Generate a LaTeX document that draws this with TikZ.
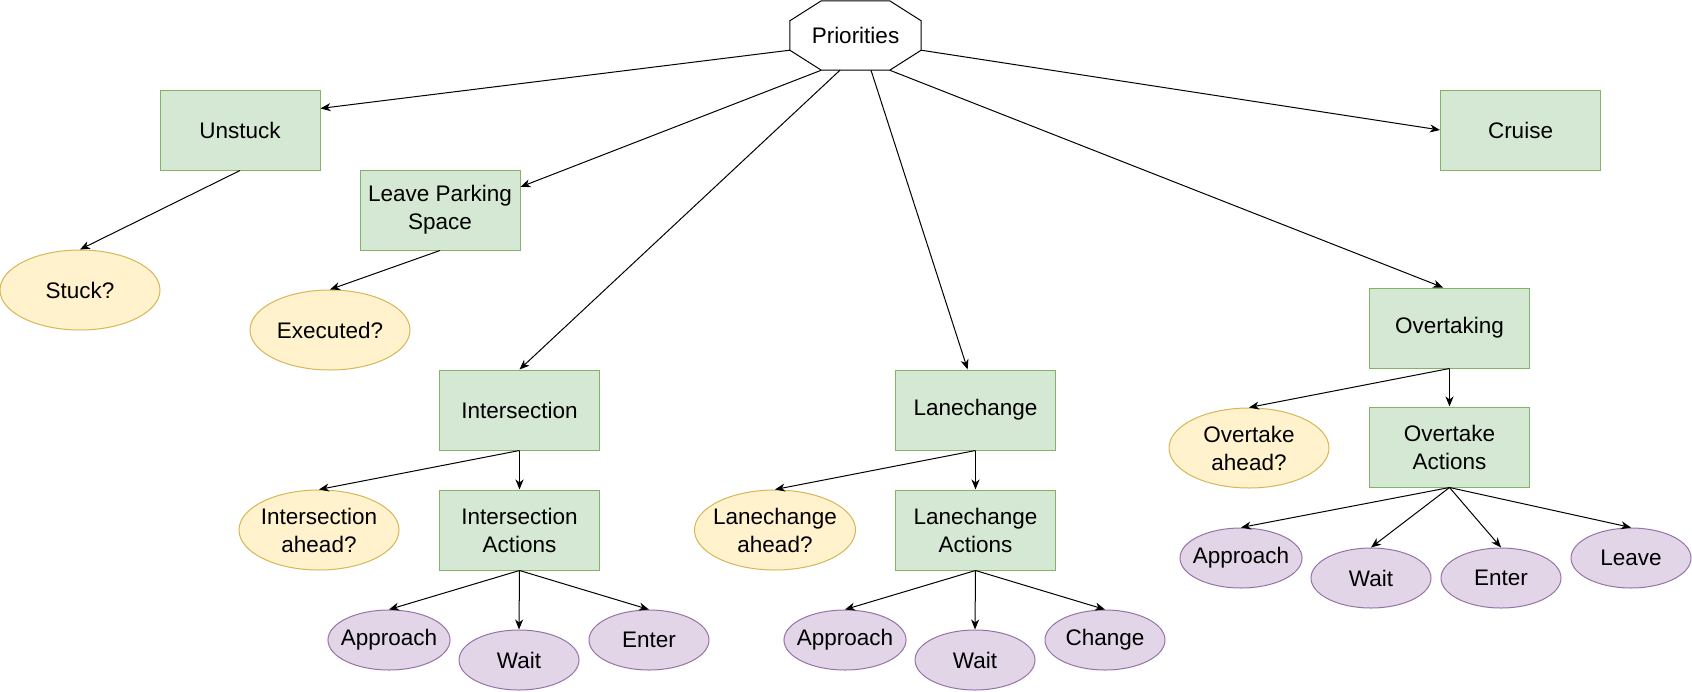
\documentclass[tikz,border=0pt]{standalone}
\usepackage{fontspec}
\setmainfont{Liberation Sans}
\usepackage{tikz}
\usetikzlibrary{shapes,arrows.meta,positioning,calc}
\usepackage{xcolor}
\definecolor{taskgreen}{HTML}{D5E8D4}
\definecolor{taskgreenline}{HTML}{82B366}
\definecolor{checkyellow}{HTML}{FFF2CC}
\definecolor{checkyellowline}{HTML}{D6B656}
\definecolor{actpurple}{HTML}{E1D5E7}
\definecolor{actpurpleline}{HTML}{9673A6}

\tikzset{
  every node/.style={font=\fontsize{22.5}{28}\selectfont,align=center,inner sep=0pt},
  priobox/.style={rectangle,minimum width=131pt,minimum height=69pt},
  taskbox/.style={rectangle,draw=taskgreenline,fill=taskgreen,line width=1pt,minimum width=160pt,minimum height=80pt},
  checkell/.style={ellipse,draw=checkyellowline,fill=checkyellow,line width=1pt,minimum width=160pt,minimum height=80pt,inner xsep=-5pt},
  actell/.style={ellipse,draw=actpurpleline,fill=actpurple,line width=1pt,minimum width=120pt,minimum height=60pt,inner xsep=-5pt},
  link/.style={draw=black,line width=1pt,-{Stealth[length=10pt,width=8pt,inset=3pt]}}
}

\begin{document}
\begin{tikzpicture}[x=1pt,y=-1pt]
        \useasboundingbox (0,0) rectangle (1692,691);

        % Root
        \node[priobox] (prio) at (855.5,35.5) {Priorities};
        \draw[line width=1pt] ($(prio.north west)+(31.5,0)$) -- ($(prio.north east)+(-31.5,0)$)
            -- ($(prio.north east)+(0,20)$) -- ($(prio.south east)+(0,-20)$)
            -- ($(prio.south east)+(-31.5,0)$) -- ($(prio.south west)+(31.5,0)$)
            -- ($(prio.south west)+(0,-20)$) -- ($(prio.north west)+(0,20)$) -- cycle;

        % Behaviours
        \node[taskbox] (unstuck) at (240,130) {Unstuck};
        \node[taskbox] (leave) at (440,210) {Leave Parking\\Space};
        \node[taskbox] (cruise) at (1520.5,130) {Cruise};
        \node[taskbox] (inters) at (519.5,410) {Intersection};
        \node[taskbox] (lanec) at (975.5,410) {Lanechange};
        \node[taskbox] (overt) at (1449.5,328) {Overtaking};

        % Conditions
        \node[checkell] (stuck) at (80,290) {Stuck?};
        \node[checkell] (executed) at (330,330) {Executed?};
        \node[checkell] (intahd) at (319,530) {Intersection\\ahead?};
        \node[checkell] (lanahd) at (775,530) {Lanechange\\ahead?};
        \node[checkell] (ovtahd) at (1249,448) {Overtake\\ahead?};

        % Action groups
        \node[taskbox] (intact) at (519.5,530) {Intersection\\Actions};
        \node[taskbox] (lanact) at (975.5,530) {Lanechange\\Actions};
        \node[taskbox] (ovtact) at (1449.5,447) {Overtake\\Actions};

        % Actions
        \node[actell] (intappr) at (389,640) {Approach};
        \node[actell] (intwait) at (519,660) {Wait};
        \node[actell] (intenter) at (649,640) {Enter};
        \node[actell] (lanappr) at (845,640) {Approach};
        \node[actell] (lanwait) at (975,660) {Wait};
        \node[actell] (lanchg) at (1105,640) {Change};
        \node[actell] (ovtappr) at (1241,558) {Approach};
        \node[actell] (ovtwait) at (1371,578) {Wait};
        \node[actell] (ovtenter) at (1501,578) {Enter};
        \node[actell] (ovtleave) at (1631,558) {Leave};

        % Root links
        \draw[link] ($(prio.south west)+(0,-20)$) -- (unstuck.15);
        \draw[link] ($(prio.south west)+(31.5,0)$) -- (leave.16);
        \draw[link] ($(prio.south)+(-15.5,0)$) -- (inters.north);
        \draw[link] ($(prio.south)+(15.5,0)$) -- (lanec.101);
        \draw[link] ($(prio.south east)+(-31.5,0)$) -- (overt.99);
        \draw[link] ($(prio.south east)+(0,-20)$) -- (cruise.west);

        % Subtree links
        \draw[link] (unstuck.south) -- (stuck.north);
        \draw[link] (leave.south) -- (executed.north);
        \draw[link] (inters.south) -- (intahd.north);
        \draw[link] (inters.south) -- (intact.north);
        \draw[link] (lanec.south) -- (lanahd.north);
        \draw[link] (lanec.south) -- (lanact.north);
        \draw[link] (overt.south) -- (ovtahd.north);
        \draw[link] (overt.south) -- (ovtact.north);
        \foreach \kid in {intappr,intwait,intenter}
            \draw[link] (intact.south) -- (\kid.north);
        \foreach \kid in {lanappr,lanwait,lanchg}
            \draw[link] (lanact.south) -- (\kid.north);
        \foreach \kid in {ovtappr,ovtwait,ovtenter,ovtleave}
            \draw[link] (ovtact.south) -- (\kid.north);
\end{tikzpicture}
\end{document}
